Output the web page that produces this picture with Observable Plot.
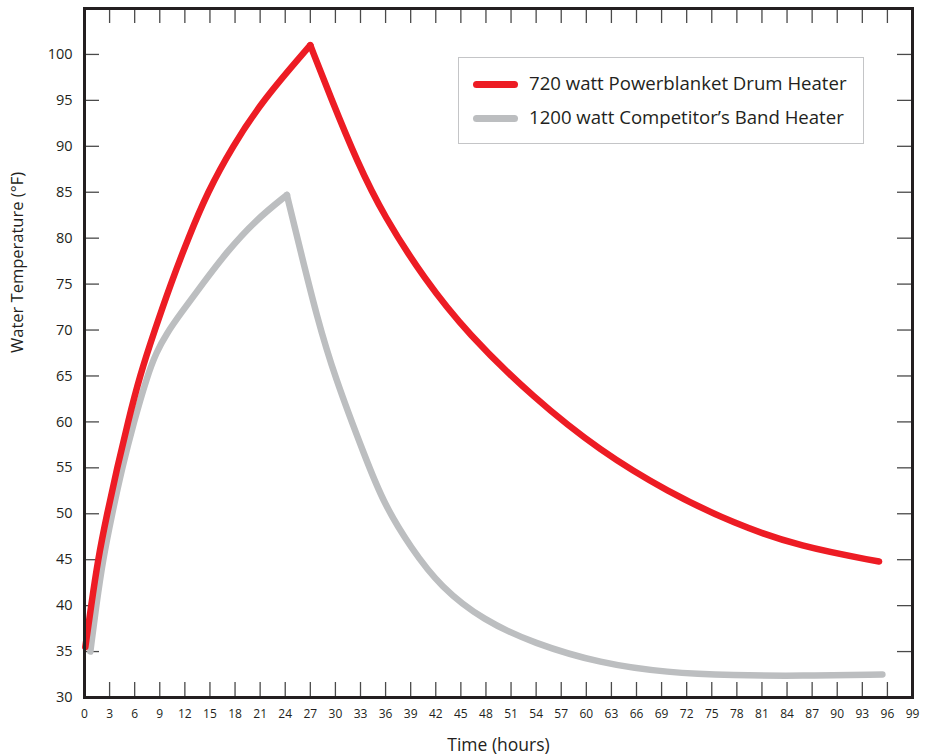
<!DOCTYPE html>
<html>
<head>
<meta charset="utf-8">
<script src="https://cdn.jsdelivr.net/npm/d3@7"></script>
<script src="https://cdn.jsdelivr.net/npm/@observablehq/plot@0.6"></script>
<style>
  html, body { margin: 0; padding: 0; background: #fff; overflow: hidden; }
  #wrap { position: relative; width: 927px; height: 755px; font-family: "Open Sans", sans-serif; color: #231f20; }
  #legend { position: absolute; left: 458px; top: 57px; width: 406px; height: 87px; box-sizing: border-box;
            border: 1.5px solid #c4c5c7; background: #fff; }
  .sw { position: absolute; left: 14px; width: 45px; height: 7px; border-radius: 3.5px; }
  .lt { position: absolute; left: 70px; font-size: 18.6px; line-height: 1; white-space: nowrap; }
</style>
</head>
<body>
<div id="wrap">
  <div id="chart"></div>
  <div id="legend">
    <div class="sw" id="sw1" style="top:23px"></div>
    <div class="lt" id="lt1" style="top:16px"></div>
    <div class="sw" id="sw2" style="top:57px"></div>
    <div class="lt" id="lt2" style="top:50px"></div>
  </div>
</div>
<script>
// ---- data ----
const seriesNames = ["720 watt Powerblanket Drum Heater", "1200 watt Competitor\u2019s Band Heater"];
const seriesColors = ["#ed1c24", "#bcbec0"];

// 720 W Powerblanket (red)
const redHours = [0.1, 0.8, 1.6, 2.7, 3.9, 5.2, 6.6, 8.4, 10.3, 12.4, 14.7, 17.7, 21.3, 27.0,
                  27.0, 29.4, 32.6, 35.8, 40.6, 45.8, 53.7, 61.7, 69.7, 77.7, 85.6, 95.0];
const redTemps = [35.5, 40, 45, 50, 55, 60, 65, 70, 75, 80, 85, 90, 95, 101,
                  101, 95.4, 88.3, 82.4, 75.6, 69.6, 62.6, 56.8, 52.4, 48.9, 46.4, 44.8];
const redPhase = ["heat","heat","heat","heat","heat","heat","heat","heat","heat","heat","heat","heat","heat","heat",
                  "cool","cool","cool","cool","cool","cool","cool","cool","cool","cool","cool","cool"];

// 1200 W competitor band heater (gray)
const grayHours = [0.7, 1.4, 2.2, 3.3, 4.5, 5.9, 7.5, 8.6, 9.8, 11.5, 14.1, 17.0, 20.5, 24.2,
                   24.2, 25.8, 27.8, 29.8, 33.7, 35.8, 39.0, 42.6, 47.7, 53.7, 61.7, 69.7, 77.6, 85.6, 95.4];
const grayTemps = [35.0, 40, 45, 50, 55, 60, 65, 67.6, 69.6, 71.8, 75, 78.5, 82.0, 84.7,
                   84.7, 78.7, 71.4, 65.2, 55.8, 51.1, 46.3, 42.0, 38.4, 35.9, 33.7, 32.7, 32.4, 32.35, 32.5];
const grayPhase = ["heat","heat","heat","heat","heat","heat","heat","heat","heat","heat","heat","heat","heat","heat",
                   "cool","cool","cool","cool","cool","cool","cool","cool","cool","cool","cool","cool","cool","cool","cool"];

const xTickLabels = [0,3,6,9,12,15,18,21,24,27,30,33,36,39,42,45,48,51,54,57,60,63,66,69,72,75,78,81,84,87,90,93,96,99];
const yTickLabels = [30,35,40,45,50,55,60,65,70,75,80,85,90,95,100];
const xInnerTicks = [3,6,9,12,15,18,21,24,27,30,33,36,39,42,45,48,51,54,57,60,63,66,69,72,75,78,81,84,87,90,93,96];
const yInnerTicks = [35,40,45,50,55,60,65,70,75,80,85,90,95,100];
const xTitle = "Time (hours)";
const yTitle = "Water Temperature (\u00B0F)";

// ---- build rows ----
const redRows = redHours.map((h, i) => ({hour: h, temp: redTemps[i], phase: redPhase[i]}));
const grayRows = grayHours.map((h, i) => ({hour: h, temp: grayTemps[i], phase: grayPhase[i]}));

const W = 927, H = 755, mL = 84, mR = 15, mT = 8, mB = 58;
const innerW = W - mL - mR, innerH = H - mT - mB;
const tickLen = 15;
const ink = "#231f20";
const tickInk = "#4a4a4a";

const chart = Plot.plot({
  width: W, height: H,
  marginLeft: mL, marginRight: mR, marginTop: mT, marginBottom: mB,
  style: {fontFamily: "'Open Sans', sans-serif", color: ink, background: "#fff", overflow: "visible"},
  x: {domain: [0, 99]},
  y: {domain: [30, 105]},
  marks: [
    // inward ticks
    Plot.tickX(xInnerTicks, {x: d => d, insetTop: innerH - tickLen, stroke: tickInk, strokeWidth: 1.3}),
    Plot.tickX(xInnerTicks, {x: d => d, insetBottom: innerH - tickLen, stroke: tickInk, strokeWidth: 1.3}),
    Plot.tickY(yInnerTicks, {y: d => d, insetRight: innerW - tickLen, stroke: tickInk, strokeWidth: 1.3}),
    Plot.tickY(yInnerTicks, {y: d => d, insetLeft: innerW - tickLen, stroke: tickInk, strokeWidth: 1.3}),
    // tick labels
    Plot.axisX(xTickLabels, {tickSize: 0, tickPadding: 12, fontSize: 12, label: null, tickFormat: d => String(d), fill: ink}),
    Plot.axisY(yTickLabels, {tickSize: 0, tickPadding: 12, fontSize: 14.5, label: null, tickFormat: d => String(d), fill: ink}),
    // axis titles
    Plot.text([xTitle], {text: d => d, frameAnchor: "bottom", dy: 48, fontSize: 17.5, fill: ink, lineAnchor: "middle"}),
    Plot.text([yTitle], {text: d => d, frameAnchor: "left", dx: -67, rotate: -90, fontSize: 16.5, fill: ink}),
    // series
    Plot.line(grayRows, {x: "hour", y: "temp", z: "phase", stroke: seriesColors[1], strokeWidth: 6.5, curve: "basis", strokeLinecap: "round", strokeLinejoin: "round"}),
    Plot.line(redRows, {x: "hour", y: "temp", z: "phase", stroke: seriesColors[0], strokeWidth: 6.5, curve: "basis", strokeLinecap: "round", strokeLinejoin: "round"}),
    // frame
    Plot.frame({stroke: ink, strokeWidth: 3})
  ]
});
document.getElementById("chart").appendChild(chart);

document.getElementById("sw1").style.background = seriesColors[0];
document.getElementById("sw2").style.background = seriesColors[1];
document.getElementById("lt1").textContent = seriesNames[0];
document.getElementById("lt2").textContent = seriesNames[1];
</script>
</body>
</html>
